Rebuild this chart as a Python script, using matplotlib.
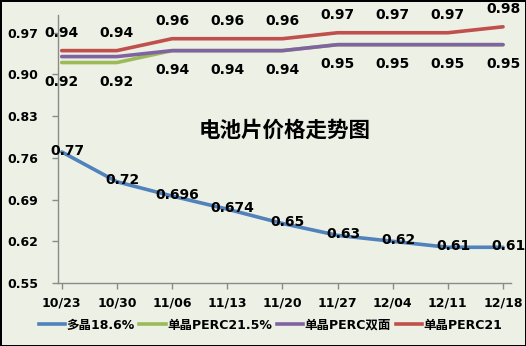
import matplotlib
matplotlib.use("Agg")
import matplotlib.pyplot as plt
from matplotlib.lines import Line2D

plt.rcParams['font.family'] = ['DejaVu Sans', 'Noto Sans CJK SC']

dates = ["10/23", "10/30", "11/06", "11/13", "11/20", "11/27", "12/04", "12/11", "12/18"]
poly = [0.77, 0.72, 0.696, 0.674, 0.65, 0.63, 0.62, 0.61, 0.61]
perc215 = [0.92, 0.92, 0.94, 0.94, 0.94, 0.95, 0.95, 0.95, 0.95]
perc_bifacial = [0.93, 0.93, 0.94, 0.94, 0.94, 0.95, 0.95, 0.95, 0.95]
perc21 = [0.94, 0.94, 0.96, 0.96, 0.96, 0.97, 0.97, 0.97, 0.98]
names = ["多晶18.6%", "单晶PERC21.5%", "单晶PERC双面", "单晶PERC21"]
yticks = [0.55, 0.62, 0.69, 0.76, 0.83, 0.90, 0.97]

colors = ["#5082BC", "#9BBB59", "#8064A2", "#C0504D"]
bg = "#EDF0E5"

fig = plt.figure(figsize=(5.26, 3.46), dpi=100, facecolor=bg, edgecolor="black", linewidth=2)
ax = fig.add_axes([0.110, 0.182, 0.861, 0.775])
ax.set_facecolor(bg)

x = list(range(len(dates)))
series = [poly, perc215, perc_bifacial, perc21]
for s, c in zip(series, colors):
    ax.plot(x, s, color=c, lw=2.6, solid_capstyle="round")

ax.set_ylim(0.55, 1.0)
ax.set_xlim(-0.07, 8.14)
ax.set_yticks(yticks)
ax.set_yticklabels([f"{v:.2f}" for v in yticks])
ax.set_xticks(x)
ax.set_xticklabels(dates)
for sp in ["top", "right"]:
    ax.spines[sp].set_visible(False)
for sp in ["left", "bottom"]:
    ax.spines[sp].set_color("#8A8A8A")
    ax.spines[sp].set_linewidth(1)
ax.tick_params(axis="both", colors="#8A8A8A", length=4, width=1, labelcolor="black", labelsize=9)
ax.tick_params(axis="y", pad=10)
ax.tick_params(axis="x", pad=6)
for lab in ax.get_xticklabels() + ax.get_yticklabels():
    lab.set_fontweight("bold")

fs = 10
for xi, v in zip(x, poly):
    ax.annotate(f"{v:g}", (xi, v), xytext=(4, 1), textcoords="offset points",
                ha="center", va="center", fontsize=fs, fontweight="bold")
for xi, v in zip(x, perc21):
    ax.annotate(f"{v:.2f}", (xi, v), xytext=(0, 13), textcoords="offset points",
                ha="center", va="center", fontsize=fs, fontweight="bold")
for xi, v in zip(x, perc215):
    ax.annotate(f"{v:.2f}", (xi, v), xytext=(0, -14), textcoords="offset points",
                ha="center", va="center", fontsize=fs, fontweight="bold")

ax.text(0.5, 0.571, "电池片价格走势图", transform=ax.transAxes, ha="center", va="center",
        fontsize=15.5, fontweight="bold")

handles = [Line2D([], [], color=c, lw=2.6) for c in colors]
fig.legend(handles, names, loc="center left", bbox_to_anchor=(0.052, 0.06), ncol=4, frameon=False,
           handlelength=2.1, handletextpad=0.15, columnspacing=0.35,
           prop={"size": 9, "weight": "bold"})

fig.savefig("out.png", dpi=100, facecolor=fig.get_facecolor(), edgecolor=fig.get_edgecolor())
